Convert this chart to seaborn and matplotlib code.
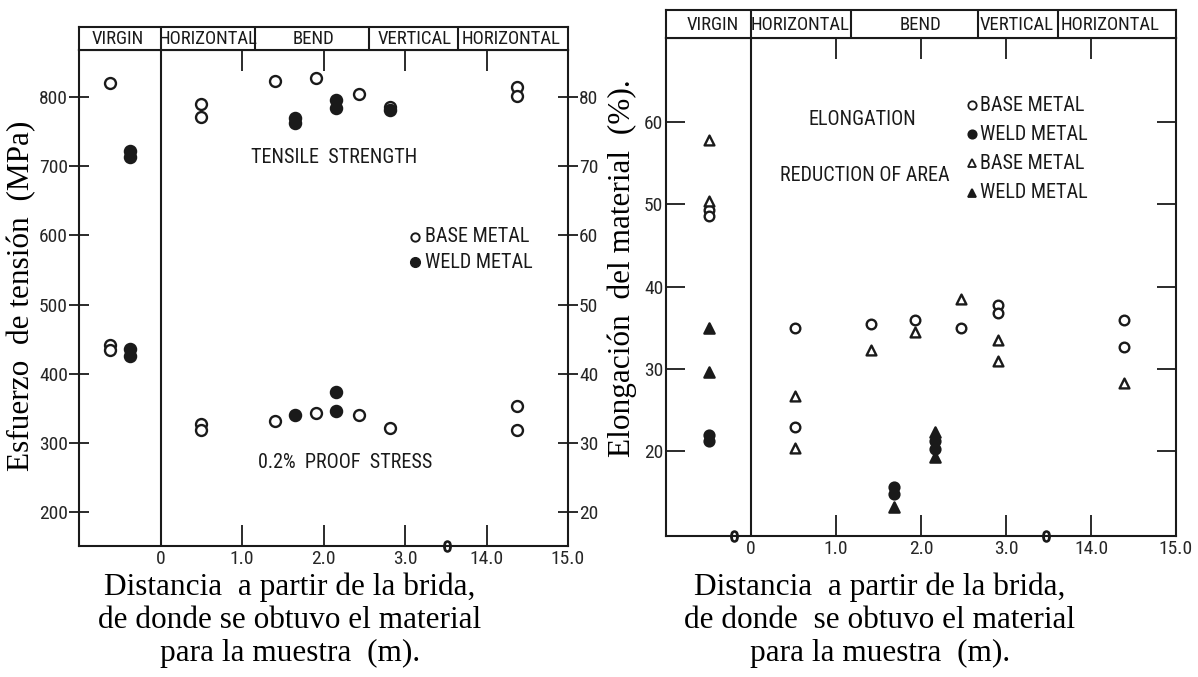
import numpy as np
import matplotlib
matplotlib.use("Agg")
import matplotlib.pyplot as plt
import seaborn as sns
from matplotlib import font_manager as fm

# ---------------------------------------------------------------- data
# distance from the flange (m); virgin specimens sit left of 0
ts_base_x = [-0.62, 0.5, 0.5, 1.40, 1.91, 2.44, 2.81, 14.38, 14.38]
ts_base_y = [820, 790, 771, 823, 828, 805, 785, 815, 802]
ts_weld_x = [-0.37, -0.37, 1.65, 1.65, 2.15, 2.15, 2.81]
ts_weld_y = [722, 713, 770, 762, 795, 784, 781]

ps_base_x = [-0.62, -0.62, 0.5, 0.5, 1.40, 1.91, 2.44, 2.81, 14.38, 14.38]
ps_base_y = [441, 434, 328, 318, 332, 343, 340, 322, 353, 318]
ps_weld_x = [-0.37, -0.37, 1.65, 2.15, 2.15]
ps_weld_y = [436, 425, 341, 374, 346]

el_base_x = [-0.49, -0.49, 0.52, 0.52, 1.41, 1.93, 2.47, 2.91, 2.91, 14.39, 14.39]
el_base_y = [49.3, 48.6, 35.0, 23.0, 35.4, 36.0, 35.0, 37.8, 36.8, 36.0, 32.7]
el_weld_x = [-0.49, -0.49, 1.68, 1.68, 2.17, 2.17]
el_weld_y = [22.0, 21.2, 15.6, 14.8, 21.2, 20.3]

ra_base_x = [-0.49, -0.49, 0.52, 0.52, 1.41, 1.93, 2.47, 2.91, 2.91, 14.39]
ra_base_y = [57.8, 50.4, 26.7, 20.4, 32.3, 34.5, 38.5, 33.5, 31.0, 28.3]
ra_weld_x = [-0.49, -0.49, 1.68, 2.17, 2.17]
ra_weld_y = [35.0, 29.6, 13.2, 22.3, 19.3]

x_ticks = [0, 1, 2, 3, 14, 15]
x_ticklabels = ["0", "1.0", "2.0", "3.0", "14.0", "15.0"]
mpa_ticks = [200, 300, 400, 500, 600, 700, 800]
mpa_labels = ["200", "300", "400", "500", "600", "700", "800"]
kgf_labels = ["20", "30", "40", "50", "60", "70", "80"]
pct_ticks = [20, 30, 40, 50, 60]

zones = ["VIRGIN", "HORIZONTAL", "BEND", "VERTICAL", "HORIZONTAL"]
zone_centres_l = [-0.53, 0.58, 1.88, 3.12, 4.30]
zone_edges_l = [0, 1.16, 2.56, 3.65]
zone_centres_r = [-0.45, 0.58, 1.99, 3.13, 4.22]
zone_edges_r = [0, 1.18, 2.67, 3.61]

xlabel_l = ["Distancia  a partir de la brida,", "de donde se obtuvo el material",
            "para la muestra  (m)."]
xlabel_r = ["Distancia  a partir de la brida,", "de donde  se obtuvo el material",
            "para la muestra  (m)."]


def to_axis(x):
    """Broken distance axis: 14 m and 15 m follow straight after 3 m."""
    x = np.asarray(x, dtype=float)
    return np.where(x >= 10, x - 10, x)


# ---------------------------------------------------------------- style
sns.set_theme(style="white")
SERIF = "Liberation Serif"
plt.rcParams["font.family"] = ["DejaVu Sans"]


def narrow_font():
    """Pick a condensed sans face for the lettering, if one is installed."""
    prefs = ["Liberation Sans Narrow", "Roboto Condensed", "Open Sans Condensed",
             "Noto Sans Condensed", "DejaVu Sans Condensed", "Noto Sans", "DejaVu Sans"]
    best = None
    for f in fm.fontManager.ttflist:
        if f.style != "normal" or f.weight not in (400, "normal", "regular", "book"):
            continue
        narrow = ("ondensed" in str(f.stretch) or "Narrow" in f.name
                  or "ondensed" in f.name or "ondensed" in f.fname or "Narrow" in f.fname)
        if not narrow:
            continue
        rank = next((i for i, p in enumerate(prefs) if p.split()[0] in f.name), len(prefs))
        if best is None or rank < best[0]:
            best = (rank, f.fname)
    if best is None:
        return fm.FontProperties(family="DejaVu Sans"), False
    return fm.FontProperties(fname=best[1]), True


NARROW, HAVE_NARROW = narrow_font()
TK = 14.0 if HAVE_NARROW else 11.5     # tick labels
AN = 14.5 if HAVE_NARROW else 12.0     # annotations
HD = 13.5 if HAVE_NARROW else 10.5     # header zones
SZ = 22.5                              # serif axis titles
INK = "#1a1a1a"

W, H = 1198, 677
fig = plt.figure(figsize=(W / 100, H / 100), dpi=100)
fig.patch.set_facecolor("white")


def box(l, t, r, b):
    return [l / W, 1 - b / H, (r - l) / W, (b - t) / H]


def frame(ax):
    for s in ax.spines.values():
        s.set_visible(True)
        s.set_color(INK)
        s.set_linewidth(1.5)
    ax.set_facecolor("white")


def label_font(texts, size):
    for t in texts:
        t.set_fontproperties(NARROW)
        t.set_fontsize(size)


def note(ax, x, y, s, size=None, **kw):
    t = ax.text(x, y, s, fontproperties=NARROW, color=INK, **kw)
    t.set_fontsize(size or AN)
    return t


def dots(ax, x, y, marker, filled, size):
    sns.scatterplot(x=to_axis(x), y=y, ax=ax, marker=marker, s=size,
                    color=INK if filled else "white", edgecolor=INK,
                    linewidth=1.7, zorder=3, legend=False)


def base_axis(ax, breaks):
    frame(ax)
    ax.set_xlim(-1, 5)
    ax.axvline(0, color=INK, lw=1.5)
    ax.set_xticks(to_axis(x_ticks))
    ax.set_xticklabels(x_ticklabels)
    label_font(ax.get_xticklabels(), TK)
    ax.tick_params(axis="x", which="both", direction="in", length=15, width=1.3,
                   color=INK, top=True, bottom=True, labelbottom=True, pad=3)
    ax.set_xlabel("")
    ax.set_ylabel("")
    for b in breaks:
        ax.plot([b], [ax.get_ylim()[0]], marker="$0$", ms=8, color=INK,
                clip_on=False, zorder=4)


def header(hax, centres, edges):
    frame(hax)
    hax.set_xlim(-1, 5)
    hax.set_ylim(0, 1)
    hax.set_xticks([])
    hax.set_yticks([])
    for e in edges:
        hax.axvline(e, color=INK, lw=1.5)
    for c, z in zip(centres, zones):
        note(hax, c, 0.47, z, size=HD, ha="center", va="center")


def serif_text(x, y, s, **kw):
    fig.text(x / W, 1 - y / H, s, ha="center", va="center", fontsize=SZ,
             family=SERIF, color="black", **kw)


# ---------------------------------------------------------------- left panel
ax1 = fig.add_axes(box(79, 50, 568, 546))
ax1.set_ylim(151, 868)
dots(ax1, ts_base_x, ts_base_y, "o", False, 62)
dots(ax1, ts_weld_x, ts_weld_y, "o", True, 64)
dots(ax1, ps_base_x, ps_base_y, "o", False, 62)
dots(ax1, ps_weld_x, ps_weld_y, "o", True, 64)
base_axis(ax1, [3.52])
ax1.set_yticks(mpa_ticks)
ax1.set_yticklabels(mpa_labels)
label_font(ax1.get_yticklabels(), TK)
ax1.tick_params(axis="y", direction="inout", length=14, width=1.3, color=INK,
                left=True, right=False, labelleft=True, labelright=False, pad=1)
sec = ax1.secondary_yaxis("right")
sec.set_yticks(mpa_ticks)
sec.set_yticklabels(kgf_labels)
label_font(sec.get_yticklabels(), TK)
sec.tick_params(direction="inout", length=14, width=1.3, color=INK, pad=1)
sec.spines["right"].set_visible(False)

note(ax1, 2.13, 712, "TENSILE  STRENGTH", ha="center", va="center")
note(ax1, 2.26, 271, "0.2%  PROOF  STRESS", ha="center", va="center")
ax1.plot([3.12], [598], "o", ms=6, mfc="white", mec=INK, mew=1.4)
note(ax1, 3.24, 598, "BASE METAL", va="center")
ax1.plot([3.12], [561], "o", ms=7, mfc=INK, mec=INK)
note(ax1, 3.24, 561, "WELD METAL", va="center")

hdr1 = fig.add_axes(box(79, 27, 568, 50))
header(hdr1, zone_centres_l, zone_edges_l)

serif_text(22, 296, "Esfuerzo  de tensión  (MPa)", rotation=90)
for i, line in enumerate(xlabel_l):
    serif_text(290, 587 + 33 * i, line)

# ---------------------------------------------------------------- right panel
ax2 = fig.add_axes(box(666, 38, 1176, 536))
ax2.set_ylim(9.7, 70.2)
dots(ax2, el_base_x, el_base_y, "o", False, 48)
dots(ax2, el_weld_x, el_weld_y, "o", True, 50)
dots(ax2, ra_base_x, ra_base_y, "^", False, 50)
dots(ax2, ra_weld_x, ra_weld_y, "^", True, 54)
base_axis(ax2, [-0.2, 3.47])
ax2.set_yticks(pct_ticks)
ax2.set_yticklabels([str(v) for v in pct_ticks])
label_font(ax2.get_yticklabels(), TK)
ax2.tick_params(axis="y", direction="in", length=14, width=1.3, color=INK,
                left=True, right=True, labelleft=True, labelright=False, pad=2)

note(ax2, 1.31, 60.3, "ELONGATION", ha="center", va="center")
note(ax2, 1.34, 53.5, "REDUCTION OF AREA", ha="center", va="center")
leg_y = [62.0, 58.5, 55.0, 51.4]
leg_txt = ["BASE METAL", "WELD METAL", "BASE METAL", "WELD METAL"]
leg_mk = [("o", "white"), ("o", INK), ("^", "white"), ("^", INK)]
for yy, tt, (mk, fc) in zip(leg_y, leg_txt, leg_mk):
    ax2.plot([2.6], [yy], mk, ms=6, mfc=fc, mec=INK, mew=1.3)
    note(ax2, 2.7, yy, tt, va="center")

hdr2 = fig.add_axes(box(666, 10, 1176, 38))
header(hdr2, zone_centres_r, zone_edges_r)

serif_text(622, 268, "Elongación  del material  (%).", rotation=90)
for i, line in enumerate(xlabel_r):
    serif_text(880, 587 + 33 * i, line)

fig.savefig("out.png", dpi=100, facecolor="white")
